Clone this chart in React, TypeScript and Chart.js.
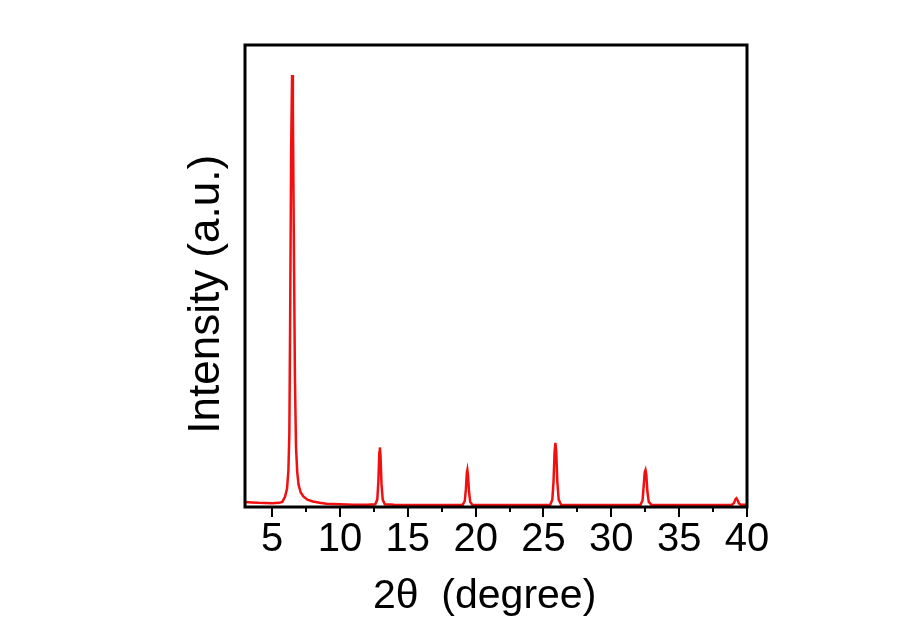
import React, { useEffect, useRef } from "react";
import { Chart, registerables } from "chart.js";

Chart.register(...registerables);

const twoTheta = [
  3.0, 3.5, 4.0, 4.5, 5.0, 5.5, 5.75, 5.95, 6.1, 6.2, 6.27, 6.33, 6.4, 6.47, 6.53, 6.6, 6.68, 6.76, 6.85, 6.95, 7.1, 7.3, 7.6, 8.0, 8.5, 9.0, 10.0, 11.0, 12.0, 12.6,
  12.75, 12.83, 12.9, 12.94, 12.99, 13.06, 13.15, 13.3, 14.0, 16.0, 18.0, 19.05, 19.2, 19.28, 19.35, 19.39, 19.44, 19.51, 19.6, 19.75, 21.0, 23.0, 25.0, 25.5,
  25.65, 25.74, 25.82, 25.88, 25.94, 26.02, 26.12, 26.3, 28.0, 30.0, 32.15, 32.3, 32.38, 32.46, 32.52, 32.58, 32.66, 32.76, 32.95, 34.0, 36.0, 38.0, 38.9,
  39.05, 39.15, 39.22, 39.3, 39.4, 39.55, 40.0,
];

const intensity = [
  1.1, 1.0, 0.9, 0.85, 0.8, 0.9, 1.1, 2.2, 4.0, 8, 16, 42, 77, 93.5, 86, 58, 28, 13, 7.5, 4.8, 3.2, 2.3, 1.6, 1.2, 0.9, 0.7, 0.6, 0.5, 0.5, 0.6,
  1.6, 5.5, 11.8, 12.9, 11.0, 5, 1.6, 0.6, 0.5, 0.45, 0.45, 0.5, 1.3, 3.8, 7.4, 8.0, 6.8, 3.3, 1.1, 0.5, 0.45, 0.45, 0.45, 0.5,
  1.6, 5.5, 12, 13.9, 12, 5.5, 1.6, 0.5, 0.45, 0.45, 0.5, 1.4, 4.3, 7.5, 8.0, 7.0, 3.3, 1.1, 0.5, 0.45, 0.45, 0.45, 0.5,
  0.9, 1.7, 1.9, 1.5, 0.8, 0.5, 0.5,
];

const majorTicks = [5, 10, 15, 20, 25, 30, 35, 40];
const minorTicks = [7.5, 12.5, 17.5, 22.5, 27.5, 32.5, 37.5];

const xTitle = "2θ  (degree)  ";
const yTitle = "Intensity (a.u.)   ";

const FONT = "'Liberation Sans', Arial, sans-serif";

export default function App() {
  const ref = useRef<HTMLCanvasElement | null>(null);

  useEffect(() => {
    document.body.style.margin = "0";
    const canvas = ref.current;
    if (!canvas) return;

    const frameAndTicks = {
      id: "frameAndTicks",
      afterDraw(chart: any) {
        const { ctx, chartArea } = chart;
        const xs = chart.scales.x;
        ctx.save();
        ctx.strokeStyle = "#000";
        ctx.lineWidth = 2;
        ctx.beginPath();
        majorTicks.forEach((v) => {
          const px = Math.round(xs.getPixelForValue(v));
          ctx.moveTo(px, chartArea.bottom);
          ctx.lineTo(px, chartArea.bottom + 10);
        });
        minorTicks.forEach((v) => {
          const px = Math.round(xs.getPixelForValue(v));
          ctx.moveTo(px, chartArea.bottom);
          ctx.lineTo(px, chartArea.bottom + 5);
        });
        ctx.stroke();
        ctx.lineWidth = 3;
        ctx.strokeRect(chartArea.left, chartArea.top, chartArea.right - chartArea.left, chartArea.bottom - chartArea.top);
        ctx.restore();
      },
    };

    const chart = new Chart(canvas, {
      type: "line",
      data: {
        datasets: [
          {
            data: twoTheta.map((x, i) => ({ x, y: intensity[i] })),
            borderColor: "#f20f0f",
            borderWidth: 2.5,
            pointRadius: 0,
            tension: 0,
            fill: false,
          },
        ],
      },
      options: {
        animation: false,
        responsive: false,
        maintainAspectRatio: false,
        layout: { padding: { top: 45, right: 172, left: 0, bottom: 0 } },
        plugins: { legend: { display: false }, tooltip: { enabled: false } },
        scales: {
          x: {
            type: "linear",
            min: 3,
            max: 40,
            afterBuildTicks(scale: any) {
              scale.ticks = majorTicks.map((value) => ({ value }));
            },
            afterFit(scale: any) {
              scale.height = 134;
            },
            grid: { display: false, drawTicks: false },
            border: { display: false },
            ticks: {
              autoSkip: false,
              maxRotation: 0,
              padding: 9,
              color: "#000",
              font: { family: FONT, size: 40 },
            },
            title: {
              display: true,
              text: xTitle,
              color: "#000",
              font: { family: FONT, size: 41 },
              padding: { top: 0, bottom: 20 },
            },
          },
          y: {
            type: "linear",
            min: 0,
            max: 100,
            afterFit(scale: any) {
              scale.width = 245;
            },
            grid: { display: false, drawTicks: false },
            border: { display: false },
            ticks: { display: false },
            title: {
              display: true,
              text: yTitle,
              color: "#000",
              font: { family: FONT, size: 44 },
              padding: { top: 180, bottom: 0 },
            },
          },
        },
      },
      plugins: [frameAndTicks],
    });

    return () => chart.destroy();
  }, []);

  return (
    <div style={{ width: 919, height: 641, background: "#fff" }}>
      <canvas ref={ref} width={919} height={641} style={{ display: "block" }} />
    </div>
  );
}
